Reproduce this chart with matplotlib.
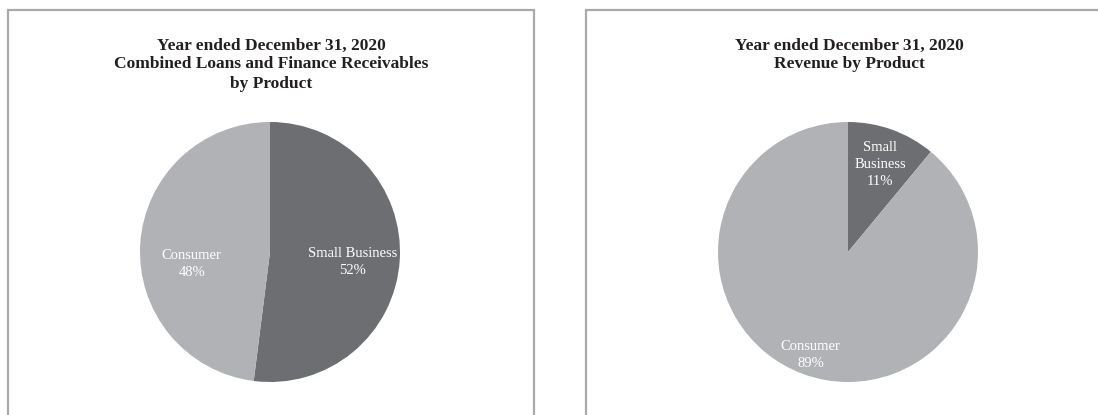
import matplotlib.pyplot as plt
from matplotlib.patches import Rectangle
import numpy as np

# data
products = ['Small Business', 'Consumer']
loans_share = [52, 48]
revenue_share = [11, 89]
titles = ['Year ended December 31, 2020\nCombined Loans and Finance Receivables\nby Product',
          'Year ended December 31, 2020\nRevenue by Product']
label_texts = [['Small Business\n52%', 'Consumer\n48%'],
               ['Small\nBusiness\n11%', 'Consumer\n89%']]

dark = '#6d6e71'
light = '#b1b2b5'
border = '#a7a9ac'

W, H = 1098, 415
fig = plt.figure(figsize=(W / 100, H / 100), dpi=100)
plt.rcParams['font.family'] = ['Liberation Serif', 'DejaVu Serif']


def px_box(x0, y0, w, h):
    # pixel box (top-left origin) -> figure fraction
    return [x0 / W, 1 - (y0 + h) / H, w / W, h / H]


# panel frames
for x0, x1 in [(8, 534), (586, 1112)]:
    fig.patches.append(Rectangle((x0 / W, -0.1), (x1 - x0) / W, 1 - 10 / H + 0.1,
                                 transform=fig.transFigure, fill=False,
                                 edgecolor=border, linewidth=1.6))

centers = [270, 848]
datas = [loans_share, revenue_share]
# label placement: (radius fraction, angle in degrees) per slice
label_pos = [[(0.64, -7), (0.61, 189)],
             [(0.72, 70), (0.84, -110)]]

for i in range(2):
    cx = centers[i]
    ax = fig.add_axes(px_box(cx - 130, 122, 260, 260))
    ax.pie(datas[i], colors=[dark, light], startangle=90, counterclock=False,
           wedgeprops=dict(linewidth=0))
    ax.set_xlim(-1, 1)
    ax.set_ylim(-1, 1)
    ax.set_aspect('equal')
    for j in range(2):
        r, a = label_pos[i][j]
        ax.text(r * np.cos(np.radians(a)), r * np.sin(np.radians(a)), label_texts[i][j],
                ha='center', va='center', color='white', fontsize=10.5, linespacing=1.4,
                clip_on=False)
    px0 = [8, 586][i]
    fig.text(((px0 + [534, 1112][i]) / 2) / W, 1 - 37.5 / H, titles[i], ha='center', va='top',
             fontsize=12.5, fontweight='bold', color='#231f20', linespacing=1.25)

fig.savefig('out.png', dpi=100)
